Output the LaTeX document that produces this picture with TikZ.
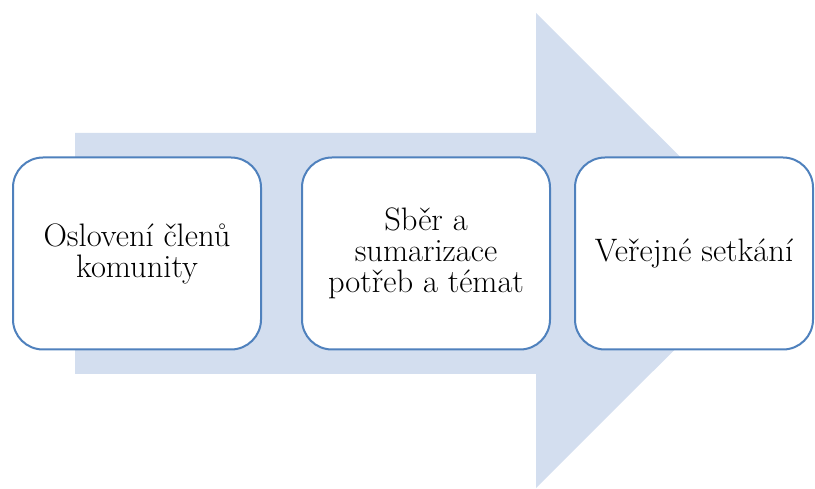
\documentclass[tikz,border=0pt]{standalone}
\usepackage{fontspec}
\definecolor{arrowfill}{HTML}{D3DEEF}
\definecolor{boxline}{HTML}{4F81BD}
\tikzset{
  stepbox/.style={draw=boxline, line width=2pt, fill=white, rounded corners=30pt,
    minimum width=248pt, minimum height=192pt, inner sep=0pt, align=center,
    font=\fontsize{32.5}{31}\selectfont},
}
\begin{document}
\begin{tikzpicture}[x=1pt, y=-1pt]
  \useasboundingbox (0,0) rectangle (815,489);
  % big process arrow behind the steps
  \fill[arrowfill] (75,133) -- (536,133) -- (536,13) -- (774,250.5)
    -- (536,488) -- (536,374) -- (75,374) -- cycle;
  % the three steps
  \node[stepbox] (osloveni) at (137,253.5) {Oslovení členů\\komunity};
  \node[stepbox] (sber) at (426,253.5) {Sběr a\\sumarizace\\potřeb a témat};
  \node[stepbox, minimum width=238pt] (setkani) at (694,253.5) {Veřejné setkání};
\end{tikzpicture}
\end{document}
